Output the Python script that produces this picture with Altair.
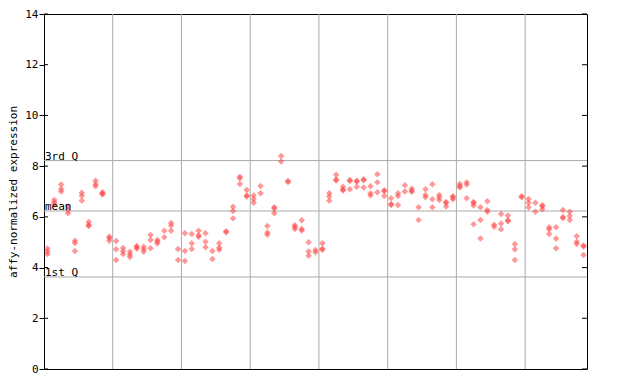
import altair as alt
import pandas as pd

# expression values per sample column, 79 columns
g1 = [[4.75, 4.63, 4.53], [6.67, 6.58, 6.50], [7.28, 7.10, 7.00], [6.42, 6.27, 6.14],
      [5.06, 4.97, 4.65], [6.95, 6.83, 6.64], [5.80, 5.68, 5.64], [7.42, 7.29, 7.21],
      [6.97, 6.92, 6.88], [5.22, 5.17, 5.06]]
g2 = [[5.05, 4.72, 4.30], [4.77, 4.64, 4.53], [4.62, 4.52, 4.42], [4.85, 4.80, 4.74],
      [4.82, 4.72, 4.62], [5.28, 5.09, 4.76], [5.09, 5.03, 4.95], [5.45, 5.20],
      [5.76, 5.66, 5.45], [4.73, 4.30]]
g3 = [[5.35, 4.65, 4.26], [5.32, 4.96, 4.73], [5.45, 5.27, 5.22], [5.35, 5.02, 4.80],
      [4.65, 4.34], [4.96, 4.78, 4.70], [5.43, 5.39], [6.40, 6.23, 5.94],
      [7.58, 7.52, 7.30], [7.06, 6.84, 6.80]]
g4 = [[6.84, 6.70, 6.56], [7.22, 6.93], [5.64, 5.38, 5.29], [6.38, 6.33, 6.14],
      [8.40, 8.18], [7.41, 7.37], [5.67, 5.60, 5.52], [5.87, 5.52, 5.46],
      [5.00, 4.63, 4.47], [4.69, 4.60]]
g5 = [[4.96, 4.74, 4.70], [6.93, 6.80, 6.64], [7.66, 7.47, 7.43], [7.19, 7.08, 7.04],
      [7.45, 7.41, 7.09], [7.42, 7.38, 7.19], [7.48, 7.44, 7.16], [7.21, 6.93, 6.84],
      [7.68, 7.36, 6.97], [7.05, 7.01, 6.82]]
g6 = [[6.73, 6.51, 6.47], [6.93, 6.82, 6.47], [7.25, 7.00], [7.11, 7.03, 6.99],
      [6.38, 5.88], [7.09, 6.86, 6.77], [7.29, 6.69, 6.38], [6.86, 6.77, 6.66],
      [6.59, 6.55, 6.41], [6.81, 6.77, 6.69]]
g7 = [[7.30, 7.22, 7.16], [7.36, 7.28, 6.73], [6.59, 6.55, 6.45, 5.71], [6.38, 5.88, 5.15],
      [6.62, 6.27, 6.20], [5.69, 5.61], [6.11, 5.74, 5.51], [6.05, 5.87, 5.83],
      [4.93, 4.72, 4.30], [6.81, 6.77]]
g8 = [[6.70, 6.56, 6.38], [6.56, 6.20], [6.46, 6.42, 6.30], [5.59, 5.51, 5.32],
      [5.59, 5.15, 4.76], [6.27, 5.99, 5.95], [6.20, 6.03, 5.88], [5.24, 5.02, 4.93],
      [4.87, 4.83, 4.50]]

stat_names = ["3rd Q", "mean", "1st Q"]
stat_values = [8.22, 6.23, 3.63]
grid_x = [10, 20, 30, 40, 50, 60, 70]
y_ticks = [0, 2, 4, 6, 8, 10, 12, 14]

rows = []
idx = 0
for g in [g1, g2, g3, g4, g5, g6, g7, g8]:
    for col in g:
        for v in col:
            rows.append({"sample": idx + 0.5, "value": v})
        idx += 1
df = pd.DataFrame(rows)
n_samples = idx

W, H = 543, 355
FONT = "DejaVu Sans Mono"
xs = alt.Scale(domain=[0, n_samples], nice=False, zero=False)
ys = alt.Scale(domain=[0, 14], nice=False, zero=True)

yaxis = alt.Axis(
    values=y_ticks, title="affy-normalized expression", grid=False,
    tickSize=5, tickColor="black", domainColor="black", labelPadding=1,
    labelFont=FONT, labelFontSize=11, labelColor="black",
    titleFont=FONT, titleFontSize=11, titleFontWeight="normal", titleColor="black",
    titleX=-26, titleBaseline="bottom",
)

def Y(field):
    return alt.Y(field, scale=ys, axis=yaxis)

vgrid = alt.Chart(pd.DataFrame({"g": grid_x})).mark_rule(color="#aaaaaa", strokeWidth=1).encode(
    x=alt.X("g:Q", scale=xs, axis=None)
)

stats = pd.DataFrame({"name": stat_names, "v": stat_values})
hlines = alt.Chart(stats).mark_rule(color="#aaaaaa", strokeWidth=1).encode(
    y=Y("v:Q")
)

points = alt.Chart(df).mark_point(
    shape="diamond", filled=True, size=42, color="#ff4444", fillOpacity=0.55, strokeWidth=0
).encode(
    x=alt.X("sample:Q", scale=xs, axis=None),
    y=Y("value:Q"),
)

labels = alt.Chart(stats).mark_text(
    align="left", baseline="alphabetic", dy=-1, font=FONT, fontSize=11, color="black"
).encode(
    x=alt.value(1),
    y=Y("v:Q"),
    text="name:N",
)

tk = pd.DataFrame({"t": y_ticks})
in_left = alt.Chart(tk).mark_rule(color="black").encode(
    y=Y("t:Q"), x=alt.value(0), x2=alt.value(4)
)
in_right = alt.Chart(tk).mark_rule(color="black").encode(
    y=Y("t:Q"), x=alt.value(W - 5), x2=alt.value(W)
)

chart = alt.layer(vgrid, hlines, points, labels, in_left, in_right).properties(
    width=W, height=H,
    background="white",
    autosize=alt.AutoSizeParams(type="none"),
    padding={"left": 36, "top": 6, "right": 10, "bottom": 8},
).configure_view(stroke="black", strokeWidth=1)

chart.save("out.html", embed_options={"renderer": "svg", "actions": False})
